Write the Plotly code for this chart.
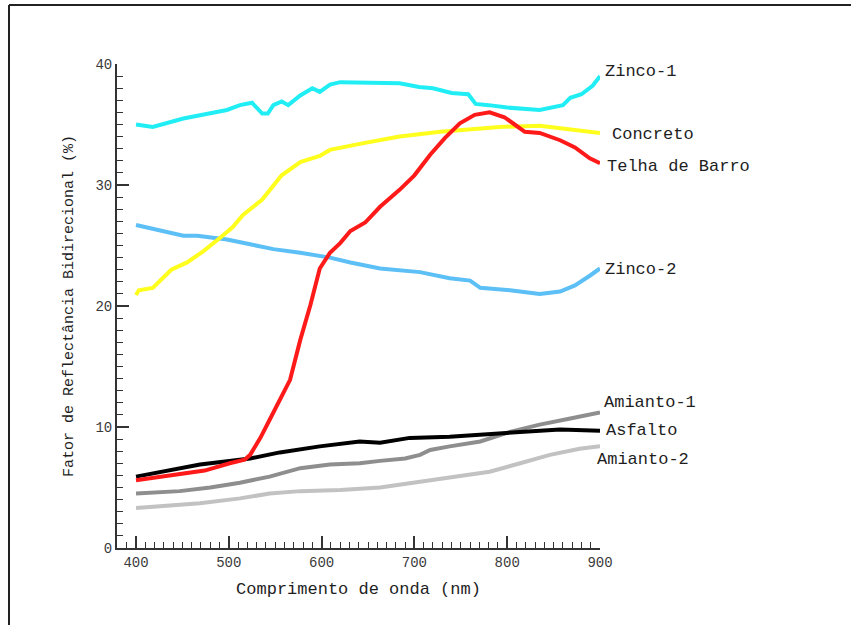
import plotly.graph_objects as go

# Spectral reflectance curves of roofing / paving materials (400-900 nm)
zinco1_wl = [400, 418, 451, 498, 512, 525, 536, 542, 548, 557, 564, 569, 577, 590, 598, 609, 620,
             684, 705, 720, 740, 758, 766, 780, 800, 835, 850, 860, 868, 880, 892, 900]
zinco1_val = [35.0, 34.8, 35.5, 36.2, 36.6, 36.8, 35.9, 35.9, 36.6, 36.9, 36.6, 36.9, 37.4, 38.0, 37.7,
              38.3, 38.5, 38.4, 38.1, 38.0, 37.6, 37.5, 36.7, 36.6, 36.4, 36.2, 36.4, 36.6, 37.2, 37.5,
              38.2, 39.0]

zinco2_wl = [400, 418, 451, 466, 498, 523, 548, 577, 609, 631, 663, 706, 738, 760, 771, 803, 835,
             857, 873, 889, 900]
zinco2_val = [26.7, 26.4, 25.8, 25.8, 25.5, 25.1, 24.7, 24.4, 24.0, 23.6, 23.1, 22.8, 22.3, 22.1,
              21.5, 21.3, 21.0, 21.2, 21.7, 22.5, 23.1]

concreto_wl = [400, 403, 418, 428, 438, 455, 472, 490, 504, 515, 536, 557, 577, 598, 609, 641, 684,
               728, 792, 835, 857, 878, 900]
concreto_val = [20.9, 21.3, 21.5, 22.3, 23.0, 23.6, 24.5, 25.6, 26.5, 27.5, 28.8, 30.8, 31.9, 32.4,
                32.9, 33.4, 34.0, 34.4, 34.8, 34.9, 34.7, 34.5, 34.3]

telha_wl = [400, 447, 474, 501, 517, 523, 534, 544, 555, 566, 577, 588, 598, 609, 620, 631, 647, 663,
            684, 700, 717, 733, 749, 765, 781, 797, 808, 819, 835, 857, 873, 889, 900]
telha_val = [5.6, 6.1, 6.4, 7.0, 7.3, 7.7, 9.1, 10.6, 12.2, 13.9, 17.2, 20.1, 23.1, 24.4, 25.2, 26.2,
             26.9, 28.2, 29.6, 30.8, 32.5, 33.9, 35.1, 35.8, 36.0, 35.6, 35.0, 34.4, 34.3, 33.7, 33.1,
             32.2, 31.8]

asfalto_wl = [400, 469, 523, 555, 598, 641, 663, 695, 738, 781, 824, 857, 900]
asfalto_val = [5.9, 6.9, 7.4, 7.9, 8.4, 8.8, 8.7, 9.1, 9.2, 9.4, 9.6, 9.8, 9.7]

amianto1_wl = [400, 447, 480, 512, 544, 577, 609, 641, 663, 690, 706, 717, 738, 771, 803, 835, 868, 900]
amianto1_val = [4.5, 4.7, 5.0, 5.4, 5.9, 6.6, 6.9, 7.0, 7.2, 7.4, 7.7, 8.1, 8.4, 8.8, 9.6, 10.2,
                10.7, 11.2]

amianto2_wl = [400, 469, 512, 544, 577, 620, 663, 706, 749, 781, 814, 846, 878, 900]
amianto2_val = [3.3, 3.7, 4.1, 4.5, 4.7, 4.8, 5.0, 5.5, 6.0, 6.3, 7.0, 7.7, 8.2, 8.4]

X_MIN, X_MAX = 379.5, 900

# name, wavelengths, values, colour, label anchor (wavelength, value)
series = [
    ("Amianto-2", amianto2_wl, amianto2_val, "#c2c2c2", (894.5, 7.35)),
    ("Amianto-1", amianto1_wl, amianto1_val, "#8e8e8e", (902.5, 12.0)),
    ("Asfalto", asfalto_wl, asfalto_val, "#000000", (904.5, 9.75)),
    ("Zinco-2", zinco2_wl, zinco2_val, "#5cbff5", (903.0, 23.0)),
    ("Concreto", concreto_wl, concreto_val, "#ffff1e", (910.5, 34.2)),
    ("Zinco-1", zinco1_wl, zinco1_val, "#20eef4", (903.0, 39.4)),
    ("Telha de Barro", telha_wl, telha_val, "#ff1a1a", (905.0, 31.5)),
]

label_font = dict(family="Liberation Mono", size=17, color="#1e1e1e")

fig = go.Figure()
annotations = []
for name, wl, val, color, (lx, ly) in series:
    fig.add_trace(go.Scatter(x=wl, y=val, mode="lines", name=name,
                             line=dict(color=color, width=4), showlegend=False,
                             hoverinfo="skip"))
    # labels sit just right of the plot area, so place them in paper units
    annotations.append(dict(x=(lx - X_MIN) / (X_MAX - X_MIN), y=ly, xref="paper", yref="y",
                            text=name, showarrow=False, xanchor="left", yanchor="middle",
                            font=label_font))

axis_color = "#333333"
tick_font = dict(family="Liberation Mono", size=14, color="#3a3a3a")

fig.update_xaxes(
    range=[X_MIN, X_MAX], tick0=0, dtick=100, showgrid=False, zeroline=False,
    showline=True, linecolor=axis_color, linewidth=2, mirror=False,
    ticks="inside", ticklen=12, tickwidth=1.6, tickcolor=axis_color,
    minor=dict(ticks="inside", dtick=10, tick0=0, ticklen=6, tickwidth=1.4, tickcolor=axis_color),
    tickfont=tick_font,
    title=dict(text="Comprimento de onda (nm)", font=label_font, standoff=12),
)
fig.update_yaxes(
    range=[0, 40], tick0=0, dtick=10, showgrid=False, zeroline=False,
    showline=True, linecolor=axis_color, linewidth=2, mirror=False,
    ticks="inside", ticklen=12, tickwidth=1.6, tickcolor=axis_color,
    minor=dict(ticks="inside", dtick=1, tick0=0, ticklen=6, tickwidth=1.4, tickcolor=axis_color),
    tickfont=tick_font,
    title=dict(text="Fator de Reflectância Bidirecional (%)",
               font=dict(family="Liberation Mono", size=15, color="#1e1e1e"), standoff=18),
)

# page frame: top and left rules
frame = [
    dict(type="line", xref="paper", yref="paper", x0=-0.2236, x1=1.6, y0=1.1219, y1=1.1219,
         line=dict(color="#222222", width=2)),
    dict(type="line", xref="paper", yref="paper", x0=-0.2236, x1=-0.2236, y0=1.1219, y1=-0.2,
         line=dict(color="#222222", width=2)),
]

fig.update_layout(
    width=851, height=625,
    margin=dict(l=117, r=251, t=64, b=77, autoexpand=False),
    paper_bgcolor="white", plot_bgcolor="white",
    annotations=annotations, shapes=frame,
)

fig.write_html("out.html")
